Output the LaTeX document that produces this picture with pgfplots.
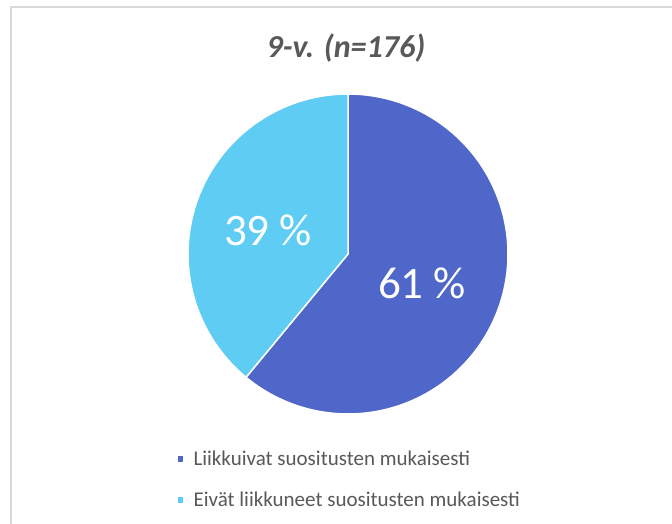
\documentclass[border=0pt]{standalone}
\usepackage{pgfplots}
\pgfplotsset{compat=1.18}
\usepackage{fontspec}
\setmainfont{Carlito}
\definecolor{darkblue}{HTML}{4E67C8}
\definecolor{lightblue}{HTML}{5ECCF3}
\definecolor{textgray}{HTML}{595959}
\definecolor{framegray}{HTML}{D9D9D9}
\begin{document}
\begin{tikzpicture}[x=1pt,y=1pt]
\useasboundingbox (0,0) rectangle (672,524);
\fill[white] (0,0) rectangle (672,524);
\draw[framegray, line width=2pt] (11,-5) -- (11,517) -- (680,517);
\node[font=\fontsize{32}{37}\selectfont\bfseries\itshape, text=textgray] at (346,476) {9-v. (n=176)};
\begin{axis}[
  at={(348pt,270pt)}, anchor=origin,
  scale only axis, width=320pt, height=320pt,
  xmin=-1, xmax=1, ymin=-1, ymax=1,
  hide axis, clip=false,
  legend style={at={(-0.0475,-0.102)}, anchor=north west, draw=none, fill=none,
    font=\fontsize{21}{25}\selectfont, text=textgray, row sep=21pt,
    nodes={inner xsep=3pt},
    /tikz/every odd column/.append style={column sep=6pt}},
  legend cell align=left,
  legend image code/.code={\fill[#1] (0pt,-3.5pt) rectangle (7pt,3.5pt);},
]
% 61 % slice, clockwise from 90 deg
\addplot[fill=darkblue, draw=white, line width=1.5pt, domain=90:90-3.6*61, samples=181, variable=\t]
  ({cos(t)},{sin(t)}) -- (axis cs:0,0) -- cycle;
% 39 % slice
\addplot[fill=lightblue, draw=white, line width=1.5pt, domain=90-3.6*61:-270, samples=121, variable=\t]
  ({cos(t)},{sin(t)}) -- (axis cs:0,0) -- cycle;
\addlegendimage{fill=darkblue}
\addlegendentry{Liikkuivat suositusten mukaisesti}
\addlegendimage{fill=lightblue}
\addlegendentry{Eivät liikkuneet suositusten mukaisesti}
\node[text=white, font=\fontsize{45}{52}\selectfont] at (axis cs:0.4625,-0.181) {61 \%};
\node[text=white, font=\fontsize{45}{52}\selectfont] at (axis cs:-0.5,0.15) {39 \%};
\end{axis}
\end{tikzpicture}
\end{document}
